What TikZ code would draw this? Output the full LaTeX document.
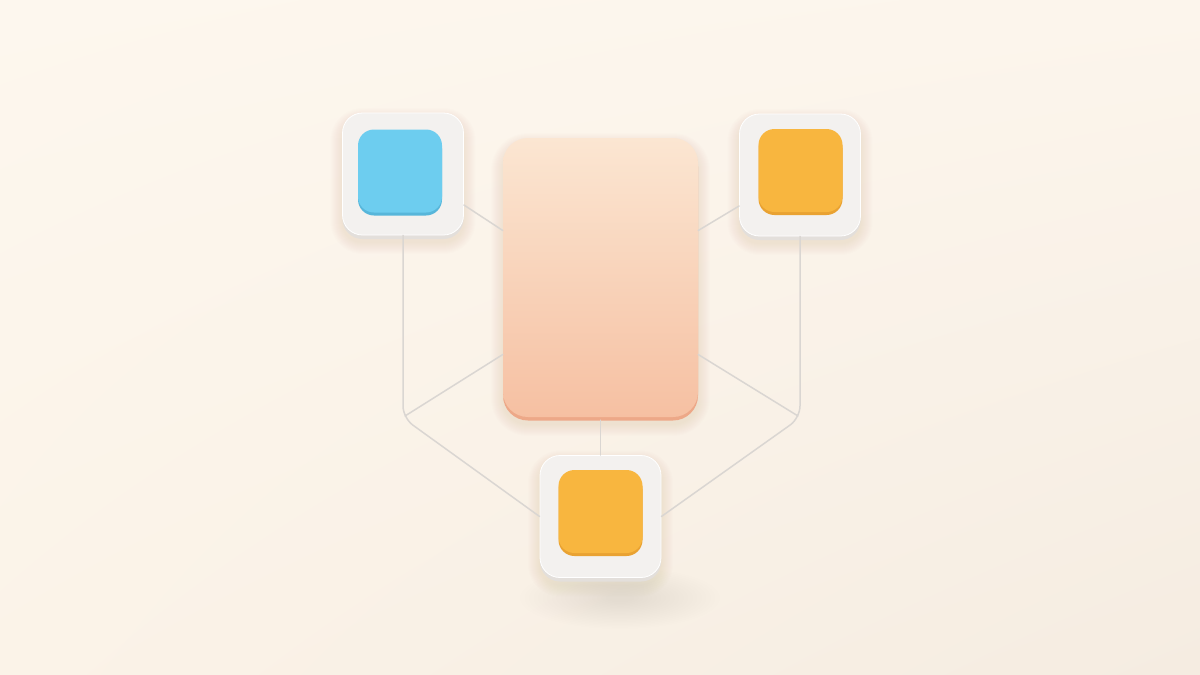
\documentclass[tikz,border=0pt]{standalone}
\usetikzlibrary{calc,shadings}
\definecolor{bgUL}{HTML}{FDF7EE}
\definecolor{bgUR}{HTML}{FCF5EC}
\definecolor{bgLL}{HTML}{FBF3E8}
\definecolor{bgLR}{HTML}{F5ECE1}
\definecolor{tileout}{HTML}{F3F1EF}
\definecolor{tileedge}{HTML}{E3DFDB}
\definecolor{blueC}{HTML}{6DCDEF}
\definecolor{blueD}{HTML}{57B6DA}
\definecolor{orC}{HTML}{F8B63F}
\definecolor{orD}{HTML}{E9A232}
\definecolor{wire}{HTML}{DAD6D2}
\definecolor{ctrTop}{HTML}{FBE6D2}
\definecolor{ctrBot}{HTML}{F6C0A2}
\definecolor{ctrEdge}{HTML}{EDA888}
\definecolor{shad}{HTML}{8A6A50}
\newcommand{\softshadow}[6]{%
  \foreach \k in {1,...,12}{%
    \fill[shad,opacity=#6,rounded corners={(#5+\k)*1pt}]
      ({#1-#3/2-\k},{#2-#4/2-\k+7}) rectangle ({#1+#3/2+\k},{#2+#4/2+\k+7});
  }%
}
\begin{document}
\begin{tikzpicture}[x=1pt,y=-1pt,
  wire/.style={draw=wire,line width=1.5pt,line cap=round},
  tilebox/.style={rounded corners=20pt,minimum width=121pt,minimum height=122pt,inner sep=0pt,fill=tileout,draw=white,line width=0.8pt},
  tilebase/.style={rounded corners=20pt,minimum width=121pt,minimum height=122pt,inner sep=0pt,fill=tileedge},
  chip/.style={rounded corners=16pt,minimum width=84pt,minimum height=83pt,inner sep=0pt},
  ctrbox/.style={rounded corners=25pt,minimum width=195pt,minimum height=279pt,inner sep=0pt,top color=ctrTop,bottom color=ctrBot},
  ctrbasebox/.style={rounded corners=25pt,minimum width=195pt,minimum height=279pt,inner sep=0pt,fill=ctrEdge}]
\useasboundingbox (0,0) rectangle (1200,675);
\shade[upper left=bgUL,upper right=bgUR,lower left=bgLL,lower right=bgLR] (0,0) rectangle (1200,675);
% faint diffuse shadow below the bottom tile
\foreach \k in {1,...,20}{\fill[shad,opacity=0.004] (620,598) ellipse ({10+4.5*\k} and {3+1.4*\k});}
% soft shadows
\softshadow{403}{174}{121}{122}{20}{0.008}
\softshadow{800}{175}{121}{122}{20}{0.008}
\softshadow{600.5}{516.5}{121}{122}{20}{0.008}
\softshadow{600.5}{277.5}{195}{279}{25}{0.006}
% tiles
\node[tilebase] at (403,178) {};
\node[tilebox] (blueT) at (403,174) {};
\node[chip,fill=blueD] at (400,174) {};
\node[chip,fill=blueC] (blueC) at (400,171) {};
\node[tilebase] at (800,179) {};
\node[tilebox] (orT) at (800,175) {};
\node[chip,fill=orD] at (800.5,173.5) {};
\node[chip,fill=orC] (orC) at (800.5,170.5) {};
\node[tilebase] at (600.5,520.5) {};
\node[tilebox] (botT) at (600.5,516.5) {};
\node[chip,fill=orD] at (600.5,514.5) {};
\node[chip,fill=orC] (botC) at (600.5,511.5) {};
% centre
\node[ctrbasebox] at (600.5,281) {};
\node[ctrbox] (ctr) at (600.5,277.5) {};
% junctions
\coordinate (jl) at (403,418);
\coordinate (jr) at (800,418);
% connectors
\draw[wire,rounded corners=12pt] (blueT.south) -- (jl) -- (botT.west);
\draw[wire] ($(jl)+(2,-2)$) -- ([yshift=-77pt]ctr.west);
\draw[wire,rounded corners=12pt] (orT.south) -- (jr) -- (botT.east);
\draw[wire] ($(jr)+(-2,-2)$) -- ([yshift=-77pt]ctr.east);
\draw[wire] ([yshift=-31pt]blueT.east) -- ([yshift=47pt]ctr.west);
\draw[wire] ([yshift=-31pt]orT.west) -- ([yshift=47pt]ctr.east);
\draw[wire] ([yshift=-3pt]ctr.south) -- (botT.north);
\end{tikzpicture}
\end{document}
